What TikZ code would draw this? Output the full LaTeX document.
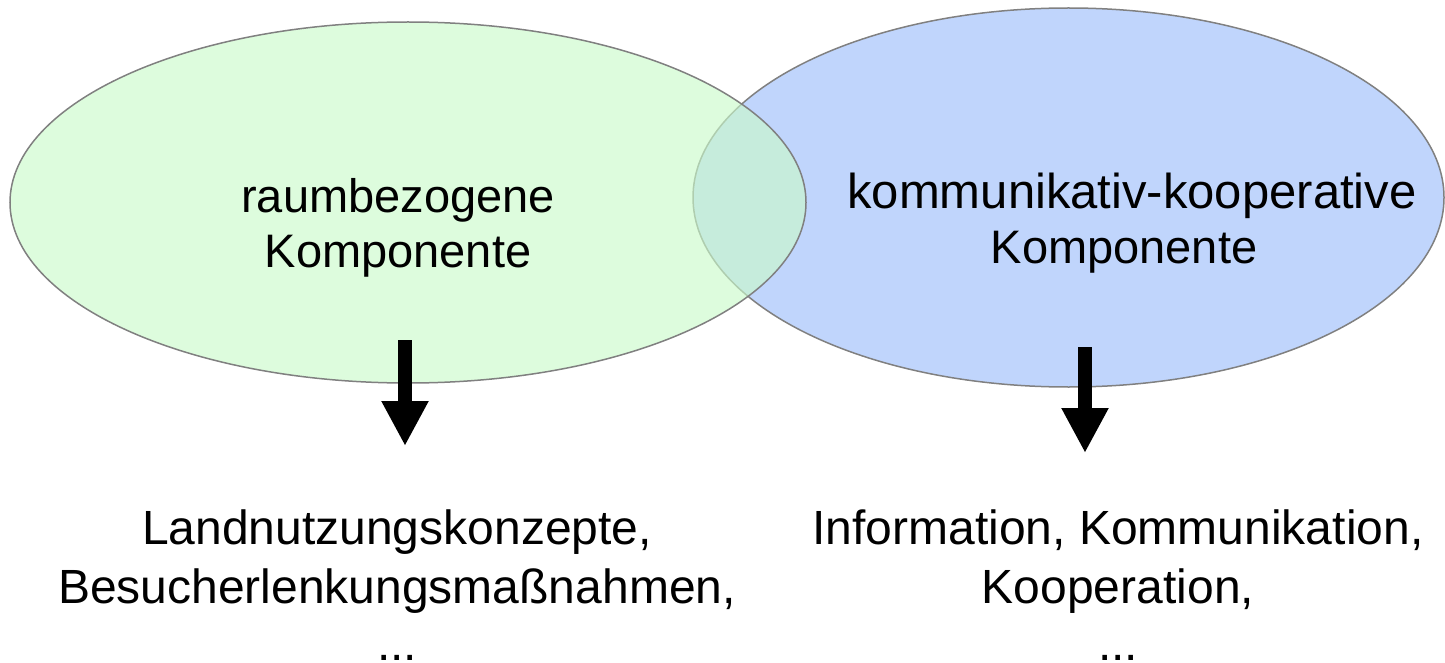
\documentclass[tikz,border=0pt]{standalone}
\usepackage{fontspec}
\setmainfont{Liberation Sans}
\usetikzlibrary{arrows.meta,shapes.geometric}
\definecolor{greenfill}{RGB}{202,250,202}
\definecolor{bluefill}{RGB}{192,213,252}
\definecolor{edgegray}{RGB}{128,128,128}
\begin{document}
\begin{tikzpicture}[x=1pt,y=-1pt,
  venn/.style={ellipse, draw=edgegray, line width=1.5pt, inner sep=0pt},
  toplabel/.style={anchor=base, font=\fontsize{47}{54}\selectfont, inner sep=0pt},
  botlabel/.style={anchor=base, font=\fontsize{48}{56}\selectfont, inner sep=0pt},
  bigarrow/.style={line width=14pt, -{Triangle[width=44pt,length=45pt]}}]
\useasboundingbox (0,0) rectangle (1445,663);
\node[venn, fill=bluefill, minimum width=751pt, minimum height=379pt] (blue) at (1068.5,197.5) {};
\node[venn, fill=greenfill, fill opacity=0.64, minimum width=796pt, minimum height=361pt] (green) at (408,202.5) {};
% labels inside ellipses
\node[toplabel] (l1) at (398,212) {raumbezogene};
\node[toplabel] (l2) at (398,267) {Komponente};
\node[toplabel, font=\fontsize{49}{56}\selectfont] (r1) at (1132,208) {kommunikativ-kooperative};
\node[toplabel] (r2) at (1124,263) {Komponente};
% arrows
\coordinate (la0) at (405,340);
\coordinate (la1) at (405,446);
\coordinate (ra0) at (1085,347);
\coordinate (ra1) at (1085,453);
\draw[bigarrow] (la0) -- (la1);
\draw[bigarrow] (ra0) -- (ra1);
% bottom texts
\node[botlabel] (b1) at (397,544) {Landnutzungskonzepte,};
\node[botlabel] (b2) at (397,603) {Besucherlenkungsmaßnahmen,};
\node[botlabel] (b3) at (397,660) {...};
\node[botlabel] (c1) at (1118,544) {Information, Kommunikation,};
\node[botlabel] (c2) at (1118,603) {Kooperation,};
\node[botlabel] (c3) at (1118,660) {...};
\end{tikzpicture}
\end{document}
